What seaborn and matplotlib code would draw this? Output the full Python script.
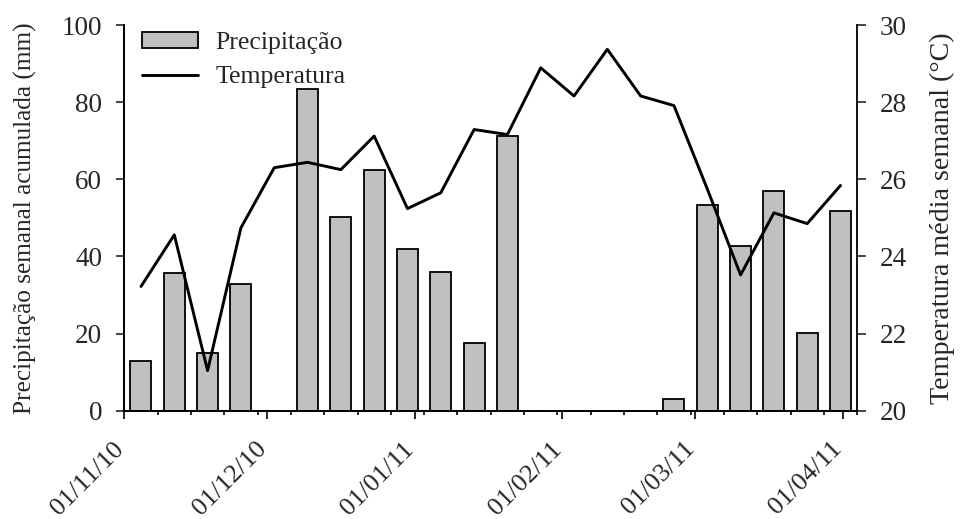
import matplotlib
matplotlib.use("Agg")
import matplotlib.pyplot as plt
import matplotlib.ticker as mticker
import matplotlib.transforms as mtransforms
import numpy as np
import pandas as pd
import seaborn as sns

# ---- data ----
week_start = ["2010-11-01", "2010-11-08", "2010-11-15", "2010-11-22", "2010-11-29",
              "2010-12-06", "2010-12-13", "2010-12-20", "2010-12-27", "2011-01-03",
              "2011-01-10", "2011-01-17", "2011-01-24", "2011-01-31", "2011-02-07",
              "2011-02-14", "2011-02-21", "2011-02-28", "2011-03-07", "2011-03-14",
              "2011-03-21", "2011-03-28"]
precip = [12.9, 35.8, 15.0, 32.9, 0.0, 83.3, 50.3, 62.4, 41.9, 35.9, 17.5, 71.2,
          0.0, 0.0, 0.0, 0.0, 3.0, 53.4, 42.7, 57.0, 20.2, 51.7]
temp = [23.22, 24.56, 21.04, 24.74, 26.30, 26.44, 26.25, 27.12, 25.24, 25.65, 27.29,
        27.16, 28.89, 28.16, 29.37, 28.16, 27.91, 25.75, 23.52, 25.13, 24.85, 25.84]
month_ticks = ["2010-11-01", "2010-12-01", "2011-01-01", "2011-02-01", "2011-03-01", "2011-04-01"]
month_labels = ["01/11/10", "01/12/10", "01/01/11", "01/02/11", "01/03/11", "01/04/11"]

origin = pd.Timestamp("2010-11-01")
day_pos = np.array([(pd.Timestamp(d) - origin).days for d in week_start], dtype=float) + 3.5
tick_pos = [(pd.Timestamp(d) - origin).days for d in month_ticks]

df = pd.DataFrame({"day": day_pos, "precip": precip, "temp": temp})

sns.set_theme(style="ticks")
plt.rcParams["font.family"] = ["Liberation Serif", "DejaVu Serif"]
plt.rcParams["axes.linewidth"] = 1.3

fig = plt.figure(figsize=(9.6, 5.19), dpi=100)
ax = fig.add_axes([0.1295, 0.2087, 0.7634, 0.7431])

sns.barplot(data=df, x="day", y="precip", native_scale=True, width=0.63,
            color="#c0c0c0", edgecolor="black", linewidth=1.3, saturation=1,
            label="Precipitação", ax=ax)

ax2 = ax.twinx()
sns.lineplot(data=df, x="day", y="temp", color="black", linewidth=2.1,
             label="Temperatura", ax=ax2)

ax.set_xlim(0, 154)
ax.set_ylim(0, 100)
ax2.set_ylim(20, 30)

ax.xaxis.set_major_locator(mticker.FixedLocator(tick_pos))
ax.xaxis.set_major_formatter(mticker.FixedFormatter(month_labels))
ax.xaxis.set_minor_locator(mticker.MultipleLocator(7))
ax.set_yticks([0, 20, 40, 60, 80, 100])
ax2.set_yticks([20, 22, 24, 26, 28, 30])

ax.tick_params(axis="x", which="major", length=6, width=1.2, direction="out",
               labelsize=19, pad=13.5, color="black")
ax.tick_params(axis="x", which="minor", length=3, width=1.2, direction="out", color="black")
ax.tick_params(axis="y", length=6, width=1.2, direction="out", labelsize=19.5, pad=10)
ax2.tick_params(axis="y", length=6.5, width=1.2, direction="out", labelsize=19.5, pad=10)

offset = mtransforms.ScaledTranslation(-8.5 / 72, 0, fig.dpi_scale_trans)
for lab in ax.get_xticklabels():
    lab.set_rotation(45)
    lab.set_ha("right")
    lab.set_va("top")
    lab.set_rotation_mode("anchor")
    lab.set_transform(lab.get_transform() + offset)

for a in (ax, ax2):
    a.spines["top"].set_visible(False)
    for s in ("left", "right", "bottom"):
        a.spines[s].set_color("black")
        a.spines[s].set_linewidth(1.3)
ax.spines["right"].set_visible(False)

ax.set_xlabel("")
ax.set_ylabel("Precipitação semanal acumulada (mm)", fontsize=18.2, labelpad=18)
ax2.set_ylabel("Temperatura média semanal (°C)", fontsize=20.2, labelpad=16)

h1, l1 = ax.get_legend_handles_labels()
h2, l2 = ax2.get_legend_handles_labels()
if ax.get_legend() is not None:
    ax.get_legend().remove()
if ax2.get_legend() is not None:
    ax2.get_legend().remove()
ax2.legend(h1 + h2, l1 + l2, loc="upper left", bbox_to_anchor=(0.003, 1.022),
           frameon=False, fontsize=18.5, handlelength=2.2, handleheight=0.55,
           handletextpad=0.65, labelspacing=0.48, borderaxespad=0.2)

fig.savefig("out.png", dpi=100)
